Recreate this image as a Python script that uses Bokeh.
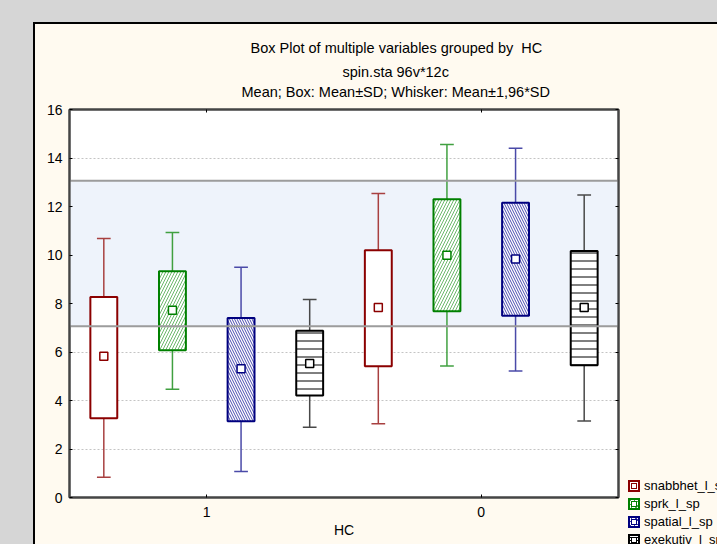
from bokeh.plotting import figure
from bokeh.models import (ColumnDataSource, FixedTicker, LinearAxis, Range1d,
                          Title, Div)
from bokeh.layouts import column, row
from bokeh.embed import file_html
from bokeh.resources import INLINE

# ---------------- data ----------------
groups = ["1", "0"]                      # HC categories, left to right
variables = ["snabbhet_l_sp", "sprk_l_sp", "spatial_l_sp", "exekutiv_l_sp"]

# one inner list per variable, values for groups ["1", "0"]
mean_vals   = [[5.82, 7.83], [7.72, 9.99], [5.31, 9.83], [5.53, 7.83]]
box_low     = [[3.27, 5.41], [6.07, 7.68], [3.14, 7.49], [4.21, 5.45]]
box_high    = [[8.27, 10.20], [9.33, 12.30], [7.40, 12.15], [6.88, 10.17]]
whisk_low   = [[0.84, 3.04], [4.46, 5.42], [1.07, 5.22], [2.90, 3.15]]
whisk_high  = [[10.68, 12.54], [10.93, 14.56], [9.50, 14.40], [8.16, 12.47]]

band_low, band_high = 7.06, 13.06
y_ticks = [0, 2, 4, 6, 8, 10, 12, 14, 16]

title_lines = ["Box Plot of multiple variables grouped by \u00a0HC",
               "spin.sta 96v*12c",
               "Mean; Box: Mean\u00b1SD; Whisker: Mean\u00b11,96*SD"]
x_title = "HC"

# ---------------- style ----------------
FONT = "Liberation Sans"
CREAM = "#fffaf0"
GREY_BG = "#d6d6d6"
FRAME = "#454545"
box_colors = ["#8b0000", "#008000", "#00007f", "#000000"]
whisk_colors = ["#a84040", "#40a040", "#4a4aa8", "#484848"]
hatch_patterns = [" ", "/", "\\", "-"]
hatch_colors = ["#ffffff", "#6cb86c", "#4b4bb0", "#000000"]
hatch_scales = [6, 6, 5, 8]
swatch_bg = ["#ffffff",
             "repeating-linear-gradient(135deg, #4fa84f 0 1px, #ffffff 1px 3px)",
             "repeating-linear-gradient(45deg, #3a3aa8 0 1px, #ffffff 1px 3px)",
             "repeating-linear-gradient(0deg, #000000 0 1px, #ffffff 1px 3px)"]
x_off = [-0.375, -0.125, 0.125, 0.375]
half_box = 0.049
half_cap = 0.025
title_left_px = [181, 273, 172]          # text start, px right of frame left
title_standoff = [25, -14, 19]


def hatch_kw(j):
    if hatch_patterns[j].strip():
        return dict(hatch_pattern=hatch_patterns[j], hatch_color=hatch_colors[j],
                    hatch_scale=hatch_scales[j], hatch_weight=1)
    return {}


# ---------------- main plot ----------------
p = figure(width=585, height=520, output_backend="svg", toolbar_location=None,
           x_range=Range1d(-0.5, 1.5), y_range=Range1d(0, 16),
           min_border_left=34, min_border_right=2, min_border_top=85,
           min_border_bottom=47)
p.background_fill_color = "#ffffff"
p.border_fill_color = CREAM
p.outline_line_color = FRAME
p.outline_line_width = 2
p.xgrid.visible = False
p.ygrid.ticker = FixedTicker(ticks=y_ticks)
p.ygrid.grid_line_color = "#c4c4c4"
p.ygrid.grid_line_dash = "2 2"
p.ygrid.grid_line_width = 1


def style_axis(ax):
    ax.axis_line_color = FRAME
    ax.axis_line_width = 2
    ax.major_tick_in = 3
    ax.major_tick_out = 0
    ax.minor_tick_line_color = None
    ax.major_tick_line_color = "#000000"
    ax.major_tick_line_width = 1
    ax.major_label_text_font = FONT
    ax.major_label_text_font_size = "14px"
    ax.major_label_text_color = "#000000"


group_ticks = list(range(len(groups)))
p.xaxis.ticker = FixedTicker(ticks=group_ticks)
p.xaxis.major_label_overrides = {i: g for i, g in enumerate(groups)}
p.xaxis.major_label_standoff = 9
p.xaxis.axis_label = x_title
p.xaxis.axis_label_standoff = 2
p.xaxis.axis_label_text_font = FONT
p.xaxis.axis_label_text_font_size = "14px"
p.xaxis.axis_label_text_font_style = "normal"
p.xaxis.axis_label_text_color = "#000000"
style_axis(p.xaxis[0])
p.yaxis.ticker = FixedTicker(ticks=y_ticks)
p.yaxis.major_label_standoff = 7
style_axis(p.yaxis[0])

top_ax = LinearAxis(ticker=FixedTicker(ticks=group_ticks),
                    major_label_overrides={i: "" for i in group_ticks},
                    major_label_standoff=0)
style_axis(top_ax)
p.add_layout(top_ax, "above")
right_ax = LinearAxis(ticker=FixedTicker(ticks=y_ticks),
                      major_label_overrides={t: "" for t in y_ticks},
                      major_label_standoff=0)
style_axis(right_ax)
p.add_layout(right_ax, "right")

# titles, innermost first
for i in [2, 1, 0]:
    p.add_layout(Title(text=title_lines[i], align="left", offset=title_left_px[i],
                       standoff=title_standoff[i], text_font=FONT,
                       text_font_size="14.5px", text_font_style="normal",
                       text_color="#000000"), "above")

# highlighted band (fill under the boxes)
p.quad(left=[-0.5], right=[1.5], bottom=[band_low], top=[band_high],
       fill_color="#eef3fb", line_color=None)

sources = []
for j, var in enumerate(variables):
    xs = [g + x_off[j] for g in range(len(groups))]
    src = ColumnDataSource(dict(
        x=xs,
        left=[x - half_box for x in xs], right=[x + half_box for x in xs],
        cl=[x - half_cap for x in xs], cr=[x + half_cap for x in xs],
        mean=mean_vals[j], blo=box_low[j], bhi=box_high[j],
        wlo=whisk_low[j], whi=whisk_high[j]))
    sources.append(src)
    p.segment(x0="x", x1="x", y0="wlo", y1="whi", source=src,
              line_color=whisk_colors[j], line_width=1.5)
    p.segment(x0="cl", x1="cr", y0="wlo", y1="wlo", source=src,
              line_color=whisk_colors[j], line_width=1.5)
    p.segment(x0="cl", x1="cr", y0="whi", y1="whi", source=src,
              line_color=whisk_colors[j], line_width=1.5)
    p.quad(left="left", right="right", bottom="blo", top="bhi", source=src,
           fill_color="#ffffff", line_color=box_colors[j], line_width=2,
           **hatch_kw(j))

# band outline drawn over the boxes
p.quad(left=[-0.5], right=[1.5], bottom=[band_low], top=[band_high],
       fill_color=None, line_color="#9c9c9c", line_width=2)

for j, src in enumerate(sources):
    p.scatter(x="x", y="mean", source=src, marker="square", size=8,
              fill_color="#ffffff", line_color=box_colors[j], line_width=1.5)

# ---------------- legend strip (right of the plot) ----------------
legend_top, legend_step = 456, 18
parts = []
for j, var in enumerate(variables):
    t = legend_top + j * legend_step
    parts.append(
        f'<div style="position:absolute;left:8px;top:{t}px;width:12px;height:12px;'
        f'box-sizing:border-box;border:2px solid {box_colors[j]};'
        f'background:{swatch_bg[j]}"></div>'
        f'<div style="position:absolute;left:11px;top:{t + 3}px;width:6px;height:6px;'
        f'box-sizing:border-box;border:1.5px solid {box_colors[j]};'
        f'background:#ffffff"></div>'
        f'<div style="position:absolute;left:24px;top:{t - 1}px;line-height:14px;'
        f'white-space:nowrap">{var}</div>')
legend_html = (f'<div style="position:relative;width:97px;height:520px;overflow:hidden;'
               f'background:{CREAM};font-family:\'{FONT}\';font-size:13px;color:#000">'
               + "".join(parts) + '</div>')
legend_div = Div(text=legend_html, width=97, height=520, margin=0,
                 styles={"background-color": CREAM, "overflow": "hidden"})

r = row(p, legend_div, margin=(2, 0, 0, 2), styles={"background-color": CREAM})
inner = column(r, styles={"background-color": "#000000"}, margin=(22, 0, 0, 33))
page = column(inner, styles={"background-color": GREY_BG})

open("out.html", "w").write(file_html(page, INLINE))
